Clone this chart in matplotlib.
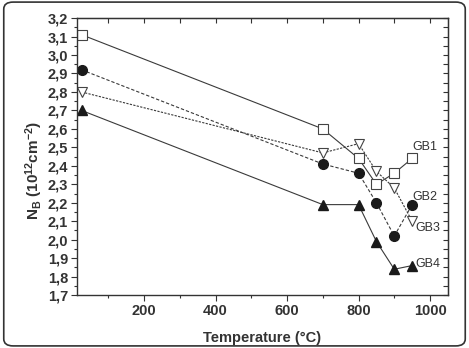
"""Boron sheet density N_B vs anneal temperature for GB1..GB4."""

import matplotlib

matplotlib.use("Agg")
import matplotlib.pyplot as plt
from matplotlib.patches import FancyBboxPatch
from matplotlib.ticker import FuncFormatter, MultipleLocator

plt.rcParams["font.family"] = ["Liberation Sans", "DejaVu Sans"]
plt.rcParams["mathtext.default"] = "regular"

temps = [25, 700, 800, 850, 900, 950]
gb1 = [3.11, 2.60, 2.44, 2.30, 2.36, 2.44]
gb2 = [2.92, 2.41, 2.36, 2.20, 2.02, 2.19]
gb3 = [2.80, 2.47, 2.52, 2.37, 2.28, 2.10]
gb4 = [2.70, 2.19, 2.19, 1.99, 1.84, 1.86]
labels = ["GB1", "GB2", "GB3", "GB4"]
label_pos = [(950, 2.50), (950, 2.23), (958, 2.065), (960, 1.866)]

line_col = "#3a3a3a"

fig = plt.figure(figsize=(4.69, 3.48), dpi=100)
ax = fig.add_axes([0.164, 0.152, 0.791, 0.796])

ax.plot(temps, gb1, color=line_col, lw=0.8, ls="-", marker="s", ms=6.5,
        mfc="white", mec="#444444", mew=0.8)
ax.plot(temps, gb2, color=line_col, lw=0.8, ls=(0, (3, 1.8)), marker="o", ms=7,
        mfc="#1a1a1a", mec="#1a1a1a")
ax.plot(temps, gb3, color=line_col, lw=0.8, ls=(0, (2, 1.2)), marker="v", ms=7,
        mfc="white", mec="#444444", mew=0.8)
ax.plot(temps, gb4, color=line_col, lw=0.8, ls="-", marker="^", ms=7.5,
        mfc="#1a1a1a", mec="#1a1a1a")

for name, (x, y) in zip(labels, label_pos):
    ax.text(x, y, name, fontsize=9, color="#333333", va="center", ha="left")

ax.set_xlim(12, 1050)
ax.set_ylim(1.7, 3.2)
ax.xaxis.set_major_locator(MultipleLocator(200))
ax.xaxis.set_minor_locator(MultipleLocator(100))
ax.yaxis.set_major_locator(MultipleLocator(0.1))
ax.yaxis.set_minor_locator(MultipleLocator(0.05))
ax.yaxis.set_major_formatter(FuncFormatter(lambda v, _: f"{v:.1f}".replace(".", ",")))
ax.xaxis.set_major_formatter(FuncFormatter(lambda v, _: "" if v < 100 else f"{v:.0f}"))

for side in ax.spines.values():
    side.set_color("#333333")
    side.set_linewidth(1.0)

ax.tick_params(which="major", direction="out", length=4, width=0.8,
               labelsize=10.5, color="#333333", labelcolor="#333333", pad=2.5)
ax.tick_params(which="minor", direction="out", length=2.5, width=0.8, color="#333333")
for lab in ax.get_xticklabels() + ax.get_yticklabels():
    lab.set_fontweight("bold")

top = ax.secondary_xaxis("top")
top.xaxis.set_major_locator(MultipleLocator(100))
top.tick_params(direction="in", length=3.5, width=0.8, labeltop=False, color="#333333")
right = ax.secondary_yaxis("right")
right.yaxis.set_major_locator(MultipleLocator(0.05))
right.tick_params(direction="in", length=3.5, width=0.8, labelright=False, color="#333333")

ax.set_xlabel("Temperature (°C)", fontsize=10.5, fontweight="bold", color="#333333")
ax.set_ylabel("N$_{B}$ (10$^{12}$cm$^{-2}$)", fontsize=11, fontweight="bold",
              color="#333333")
ax.xaxis.set_label_coords(0.5, -0.13)
ax.yaxis.set_label_coords(-0.085, 0.45)

border = FancyBboxPatch((0.008, 0.006), 0.984, 0.988, transform=fig.transFigure,
                        boxstyle="round,pad=0,rounding_size=0.02", fill=False,
                        ec="#333333", lw=1.2)
fig.patches.append(border)

fig.savefig("out.png", dpi=100)
